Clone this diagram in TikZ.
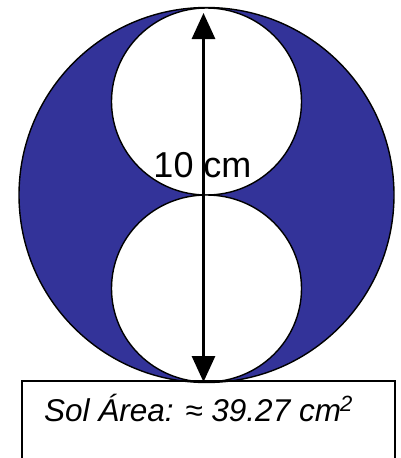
\documentclass[tikz,border=0pt]{standalone}
\usepackage{fontspec}
\setmainfont{Liberation Sans}
\usetikzlibrary{arrows.meta}
\definecolor{solblue}{RGB}{51,51,153}

\begin{document}
\begin{tikzpicture}[x=1pt,y=-1pt]
    \useasboundingbox (0,0) rectangle (400,458);
    \fill[solblue, draw=black, line width=1.4pt] (206.5,195) circle (187.5);
    \filldraw[fill=white, draw=black, line width=1.4pt] (206.5,101.5) ellipse (95 and 93.5);
    \filldraw[fill=white, draw=black, line width=1.4pt] (206.5,288.5) ellipse (95 and 93.5);
    \draw[line width=1.4pt] (22,381) rectangle (395,470);
    \node[anchor=base, inner sep=0] (L) at (202.5,177) {\fontsize{36}{42}\selectfont 10 cm};
    \node[anchor=base west, inner sep=0] (S) at (44,421) {\fontsize{31.5}{38}\selectfont\itshape Sol Área: ≈ 39.27 cm\kern-1pt\textsuperscript{2}};
    \coordinate (T) at (203.5,13);
    \coordinate (B) at (203.5,382);
    \draw[line width=3pt, {Triangle[width=23pt,length=26pt]}-{Triangle[width=23pt,length=26pt]}] (T) -- (B);
  \end{tikzpicture}
\end{document}
